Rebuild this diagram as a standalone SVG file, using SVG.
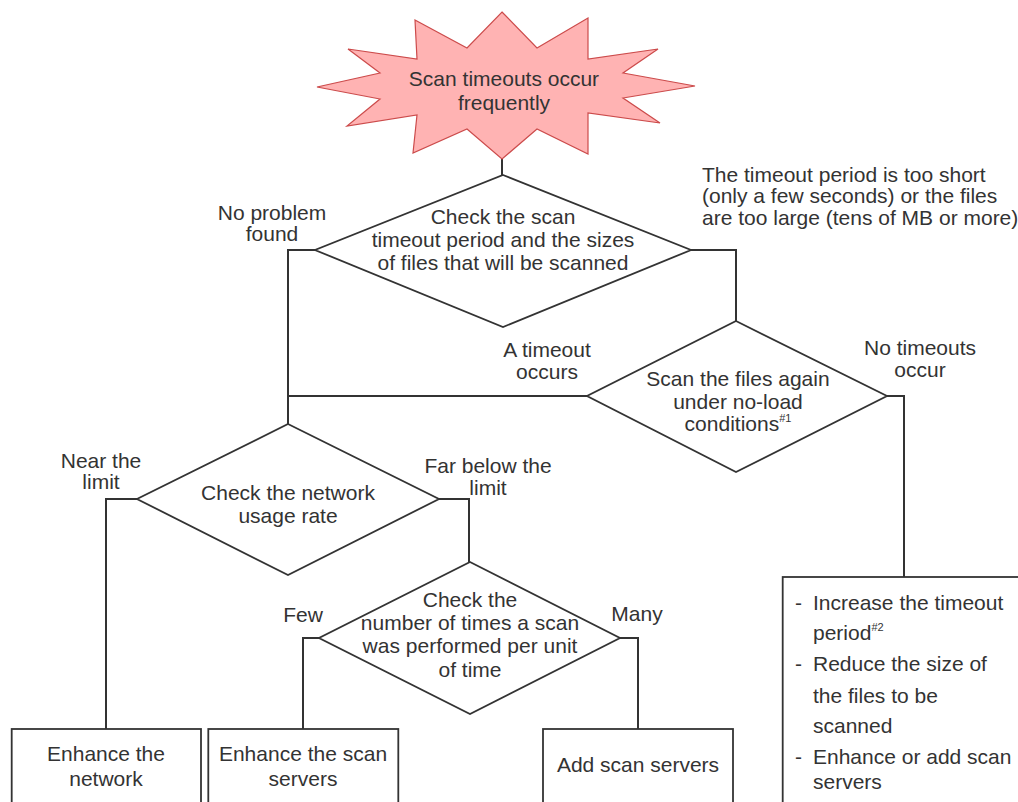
<svg xmlns="http://www.w3.org/2000/svg" width="1018" height="802" viewBox="0 0 1018 802">
<style>
  .t { font-family: "Liberation Sans", Arial, sans-serif; font-size: 21px; fill: #333; }
  .c { text-anchor: middle; }
  .shape { fill: #fff; stroke: #333; stroke-width: 1.8; }
  .conn { fill: none; stroke: #333; stroke-width: 2; }
  .sup { font-size: 11px; }
</style>
<rect width="1018" height="802" fill="#fff"/>
<g id="connectors">
  <path class="conn" d="M502 159 V175"/>
  <path class="conn" d="M315 250 H288 V424"/>
  <path class="conn" d="M691 250 H736 V321"/>
  <path class="conn" d="M587 396 H288"/>
  <path class="conn" d="M887 396 H904 V577"/>
  <path class="conn" d="M137 499 H106 V729"/>
  <path class="conn" d="M439 499 H469 V562"/>
  <path class="conn" d="M319 638 H303 V729"/>
  <path class="conn" d="M620 638 H638 V729"/>
</g>
<g id="start">
  <polygon points="502,12 537,48 588,18 588,59 658,49 623,73 695,86 623,98 660,123 588,113 588,154 537,129 502,159 467,129 413,153 417,115 347,126 380,99 317,87 380,73 348,49 417,59 415,20 467,48" fill="#ffb3b3" stroke="#cc4b4b" stroke-width="1.2"/>
  <text class="t c" x="504" y="86">Scan timeouts occur</text>
  <text class="t c" x="504" y="110">frequently</text>
</g>
<g id="check-timeout">
  <polygon class="shape" points="503,175 691,250 503,327 315,250"/>
  <text class="t c" x="503" y="224">Check the scan</text>
  <text class="t c" x="503" y="247">timeout period and the sizes</text>
  <text class="t c" x="503" y="270">of files that will be scanned</text>
</g>
<g id="label-no-problem">
  <text class="t c" x="272" y="220">No problem</text>
  <text class="t c" x="272" y="241">found</text>
</g>
<g id="label-too-short">
  <text class="t" x="702" y="182">The timeout period is too short</text>
  <text class="t" x="702" y="203">(only a few seconds) or the files</text>
  <text class="t" x="702" y="225">are too large (tens of MB or more)</text>
</g>
<g id="scan-again">
  <polygon class="shape" points="736,321 887,396 736,472 587,396"/>
  <text class="t c" x="738" y="386">Scan the files again</text>
  <text class="t c" x="738" y="409">under no-load</text>
  <text class="t c" x="738" y="431">conditions<tspan class="sup" dy="-9">#1</tspan></text>
</g>
<g id="label-timeout-occurs">
  <text class="t c" x="547" y="357">A timeout</text>
  <text class="t c" x="547" y="379">occurs</text>
</g>
<g id="label-no-timeouts">
  <text class="t c" x="920" y="355">No timeouts</text>
  <text class="t c" x="920" y="377">occur</text>
</g>
<g id="check-network">
  <polygon class="shape" points="288,424 439,499 288,575 137,499"/>
  <text class="t c" x="288" y="500">Check the network</text>
  <text class="t c" x="288" y="523">usage rate</text>
</g>
<g id="label-near-limit">
  <text class="t c" x="101" y="468">Near the</text>
  <text class="t c" x="101" y="489">limit</text>
</g>
<g id="label-far-below">
  <text class="t c" x="488" y="473">Far below the</text>
  <text class="t c" x="488" y="495">limit</text>
</g>
<g id="check-scan-count">
  <polygon class="shape" points="470,562 620,638 470,714 319,638"/>
  <text class="t c" x="470" y="607">Check the</text>
  <text class="t c" x="470" y="630">number of times a scan</text>
  <text class="t c" x="470" y="653">was performed per unit</text>
  <text class="t c" x="470" y="677">of time</text>
</g>
<g id="label-few">
  <text class="t c" x="303" y="622">Few</text>
</g>
<g id="label-many">
  <text class="t c" x="637" y="621">Many</text>
</g>
<g id="enhance-network">
  <rect class="shape" x="11.7" y="729" width="189.3" height="90"/>
  <text class="t c" x="106" y="761">Enhance the</text>
  <text class="t c" x="106" y="786">network</text>
</g>
<g id="enhance-servers">
  <rect class="shape" x="208.3" y="729" width="190" height="90"/>
  <text class="t c" x="303" y="761">Enhance the scan</text>
  <text class="t c" x="303" y="786">servers</text>
</g>
<g id="add-servers">
  <rect class="shape" x="543" y="729" width="190" height="90"/>
  <text class="t c" x="638" y="772">Add scan servers</text>
</g>
<g id="timeout-actions">
  <rect class="shape" x="782.7" y="577" width="260" height="240"/>
  <text class="t" x="795" y="610">-</text>
  <text class="t" x="813" y="610">Increase the timeout</text>
  <text class="t" x="813" y="640">period<tspan class="sup" dy="-9">#2</tspan></text>
  <text class="t" x="795" y="671">-</text>
  <text class="t" x="813" y="671">Reduce the size of</text>
  <text class="t" x="813" y="703">the files to be</text>
  <text class="t" x="813" y="733">scanned</text>
  <text class="t" x="795" y="764">-</text>
  <text class="t" x="813" y="764">Enhance or add scan</text>
  <text class="t" x="813" y="789">servers</text>
</g>
</svg>
